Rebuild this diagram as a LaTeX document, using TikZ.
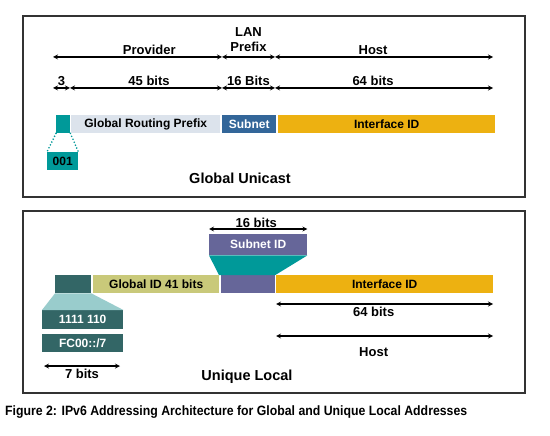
\documentclass[tikz,border=0pt]{standalone}
\usepackage{fontspec}
\setmainfont{Liberation Sans}
\usepackage{graphicx}
\usepackage{tikz}
\usetikzlibrary{arrows, positioning}

\definecolor{tealmid}{HTML}{009999}
\definecolor{teallight}{HTML}{99CCCC}
\definecolor{tealdark}{HTML}{336666}
\definecolor{greylight}{HTML}{DCE3EC}
\definecolor{subnetblue}{HTML}{336699}
\definecolor{ifyellow}{HTML}{EDB111}
\definecolor{olive}{HTML}{C9C97A}
\definecolor{purplegrey}{HTML}{666699}
\definecolor{framegrey}{HTML}{333333}

\begin{document}
\begin{tikzpicture}[x=1pt, y=-1pt]
        \tikzstyle{field} = [rectangle, inner sep=0pt, anchor=north west, minimum height=18pt, font=\bfseries\fontsize{12}{14}\selectfont]
        \tikzstyle{dimline} = [<->, >=stealth, line width=1.2pt]
        \tikzstyle{dimtext} = [font=\bfseries\fontsize{13}{15}\selectfont, inner sep=1pt]
        \tikzstyle{heading} = [font=\bfseries\fontsize{14.5}{16}\selectfont, inner sep=0pt]
        \tikzstyle{panel} = [draw=framegrey, line width=2pt]

        \useasboundingbox (0,0) rectangle (550,436);
        \fill[white] (0,0) rectangle (550,436);

        % Global Unicast
        \draw[panel] (23,16) rectangle (525,197);

        \coordinate (pa) at (53,57);
        \coordinate (pb) at (222,57);
        \coordinate (pc) at (275,57);
        \coordinate (pd) at (493,57);
        \draw[dimline] (pa) -- node[dimtext, above=1pt, pos=.57] {Provider} (pb);
        \draw[dimline] (pb) -- node[dimtext, above=4pt, align=center] {LAN\\Prefix} (pc);
        \draw[dimline] (pc) -- node[dimtext, above=1pt, pos=.45] {Host} (pd);

        \coordinate (ba) at (53,88);
        \coordinate (bb) at (70,88);
        \coordinate (bc) at (222,88);
        \coordinate (bd) at (275,88);
        \coordinate (be) at (493,88);
        \draw[dimline] (ba) -- node[dimtext, above=1pt] {3} (bb);
        \draw[dimline] (bb) -- node[dimtext, above=1pt, pos=.52] {45 bits} (bc);
        \draw[dimline] (bc) -- node[dimtext, above=1pt] {16 Bits} (bd);
        \draw[dimline] (bd) -- node[dimtext, above=1pt, pos=.45] {64 bits} (be);

        \node (pre3) [field, fill=tealmid, minimum width=14pt] at (56,115) {};
        \node (grp) [field, fill=greylight, minimum width=149pt] at (71,115) {Global Routing Prefix};
        \node (subnet) [field, fill=subnetblue, text=white, minimum width=54pt] at (222,115) {Subnet};
        \node (iid) [field, fill=ifyellow, minimum width=217pt] at (278,115) {Interface ID};

        \node (b001) [field, fill=tealmid, minimum width=31pt] at (47,152) {001};
        \draw[tealmid, line width=1.8pt, line cap=round, dash pattern=on 0pt off 3.2pt] (pre3.south west) -- (b001.north west);
        \draw[tealmid, line width=1.8pt, line cap=round, dash pattern=on 0pt off 3.2pt] (pre3.south east) -- (b001.north east);

        \node (gu) [heading] at (240,178) {Global Unicast};

        % Unique Local
        \draw[panel] (23,211) rectangle (525,393);

        \node (subid) [field, fill=purplegrey, text=white, minimum width=98pt, minimum height=21pt] at (209,234) {Subnet ID};
        \coordinate (sa) at ([yshift=5pt]subid.north west);
        \coordinate (sb) at ([yshift=5pt]subid.north east);
        \draw[dimline] (sa) -- node[dimtext, above=0pt, pos=.48] {16 bits} (sb);

        \node (ulpre) [field, fill=tealdark, minimum width=36pt] at (55,275) {};
        \node (gid) [field, fill=olive, minimum width=126pt] at (93,275) {Global ID 41 bits};
        \node (sub2) [field, fill=purplegrey, minimum width=54pt] at (221,275) {};
        \node (iid2) [field, fill=ifyellow, minimum width=217pt] at (276,275) {Interface ID};

        \fill[tealmid] (subid.south west) -- (subid.south east) -- (sub2.north east) -- ([xshift=-2pt]sub2.north west) -- cycle;

        \node (ones) [field, fill=tealdark, text=white, minimum width=81pt, minimum height=19pt] at (42,310) {1111 110};
        \node (fc) [field, fill=tealdark, text=white, minimum width=81pt] at (42,334) {FC00::/7};
        \fill[teallight] (ulpre.south west) -- (ulpre.south east) -- (ones.north east) -- (ones.north west) -- cycle;

        \coordinate (sev1) at (44,366);
        \coordinate (sev2) at (120,366);
        \draw[dimline] (sev1) -- node[dimtext, below=1pt] {7 bits} (sev2);

        \coordinate (ha) at (276,304);
        \coordinate (hb) at (493,304);
        \draw[dimline] (ha) -- node[dimtext, below=1pt, pos=.45] {64 bits} (hb);
        \coordinate (hc) at (276,336);
        \coordinate (hd) at (493,336);
        \draw[dimline] (hc) -- node[dimtext, below=10pt, pos=.45] {Host} (hd);

        \node (ul) [heading] at (247,377) {Unique Local};

        % caption
        \node (cap) [anchor=south west, inner sep=0pt] at (5,419) {\resizebox{462pt}{9.8pt}{\bfseries Figure 2: IPv6 Addressing Architecture for Global and Unique Local Addresses}};
\end{tikzpicture}
\end{document}
